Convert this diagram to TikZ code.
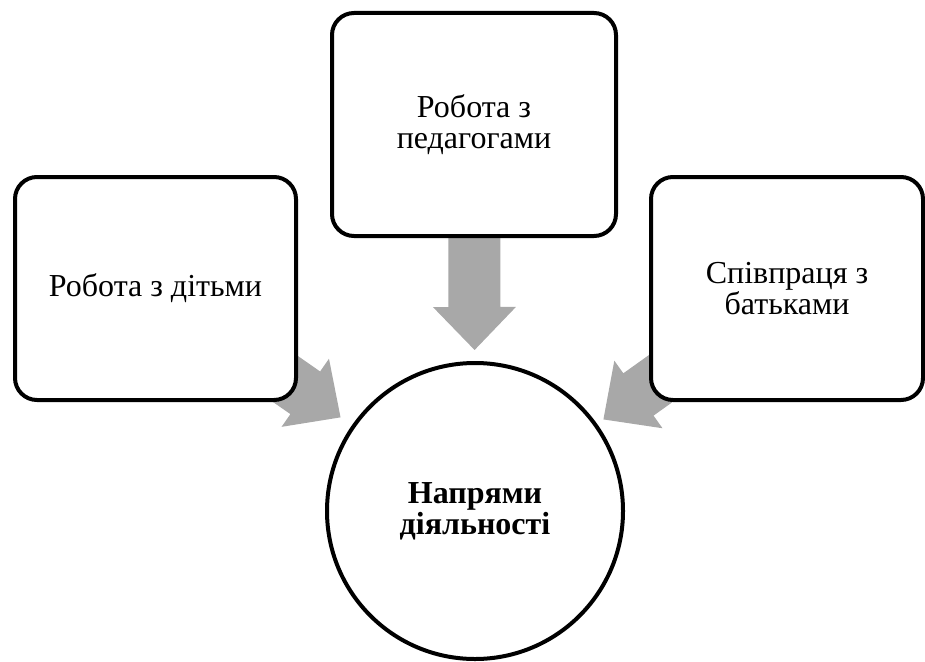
\documentclass[tikz,border=0pt]{standalone}
\usepackage{fontspec}
\setmainfont{Liberation Serif}
\usetikzlibrary{calc,backgrounds}
\definecolor{arrowgray}{RGB}{168,168,168}
\newcommand{\blockarrow}[2]{%
  \coordinate (ba-b) at ($(#1)!182.5pt!(#2)$);
  \coordinate (ba-t) at ($(#1)!225.5pt!(#2)$);
  \fill[arrowgray] ($(#1)!26pt!90:(#2)$) -- ($(ba-b)!26pt!90:(ba-t)$)
    -- ($(ba-b)!41.5pt!90:(ba-t)$) -- (ba-t) -- ($(ba-b)!41.5pt!-90:(ba-t)$)
    -- ($(ba-b)!26pt!-90:(ba-t)$) -- ($(#1)!26pt!-90:(#2)$) -- cycle;}
\tikzset{
  box/.style={draw, line width=4pt, rounded corners=22pt, fill=white, align=center,
    font=\fontsize{32}{31}\selectfont, inner sep=0pt, minimum height=223pt},
  circ/.style={draw, circle, line width=4pt, fill=white, align=center,
    font=\fontsize{32}{31}\selectfont\bfseries, inner sep=0pt, minimum size=296pt}
}
\begin{document}
\begin{tikzpicture}[x=1pt,y=-1pt]
\useasboundingbox (0,0) rectangle (925,661);
\node[box, minimum width=284pt] (top) at (474,124.5) {Робота з\\педагогами};
\node[box, minimum width=281pt] (left) at (155.5,288.5) {Робота з дітьми};
\node[box, minimum width=272pt] (right) at (787,288.5) {Співпраця з\\батьками};
\node[circ] (c) at (475,511) {Напрями\\діяльності};
\begin{scope}[on background layer]
  \blockarrow{top}{c}
  \blockarrow{left}{c}
  \blockarrow{right}{c}
\end{scope}
\end{tikzpicture}
\end{document}
